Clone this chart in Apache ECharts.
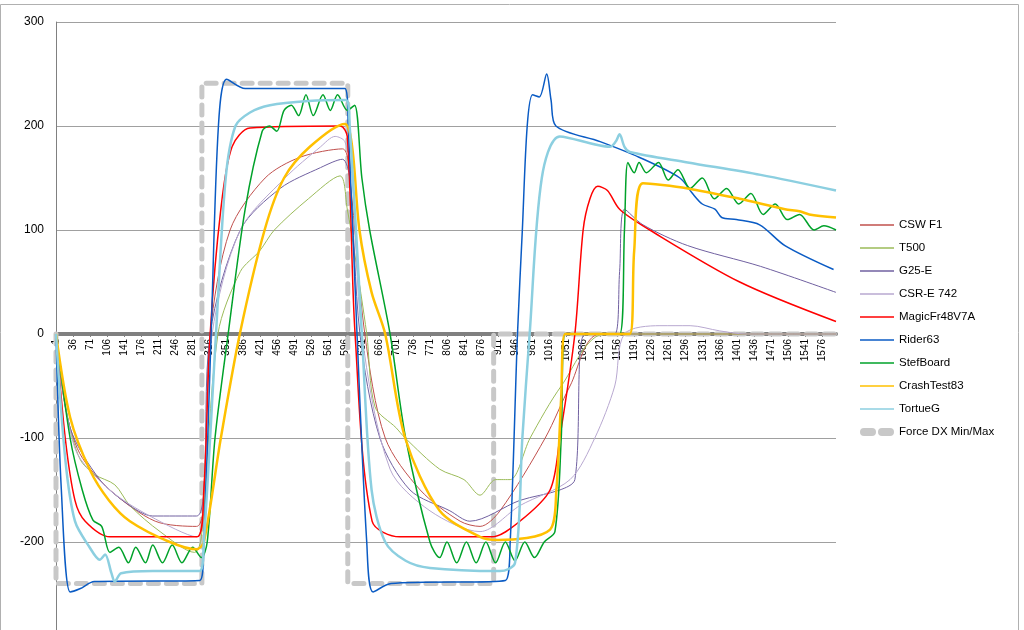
<!DOCTYPE html>
<html><head><meta charset="utf-8">
<script src="https://cdn.jsdelivr.net/npm/echarts@6/dist/echarts.min.js"></script>
<style>html,body{margin:0;background:#fff;overflow:hidden;height:630px}#c{width:1024px;height:660px}</style>
</head><body><div id="c"></div>
<script>
var seriesNames=['CSW F1','T500','G25-E','CSR-E 742','MagicFr48V7A','Rider63','StefBoard','CrashTest83','TortueG','Force DX Min/Max'];
var cswF1=[[1,0],[20,-70],[50,-115],[112,-150],[205,-180],[290,-185],[305,-160],[318,0],[359,100],[431,150],[503,170],[590,178],[605,150],[636,0],[678,-100],[750,-150],[832,-180],[873,-185],[914,-170],[1007,-100],[1058,-50],[1120,0],[1605,0]];
var t500=[[1,0],[25,-80],[50,-120],[80,-135],[122,-145],[153,-165],[215,-190],[286,-210],[300,-195],[334,0],[380,60],[420,80],[450,100],[520,130],[585,152],[600,120],[615,78],[640,0],[657,-70],[700,-90],[719,-100],[790,-130],[840,-140],[873,-155],[905,-140],[935,-140],[976,-100],[1040,-50],[1130,0],[1605,0]];
var g25e=[[1,0],[30,-90],[91,-140],[153,-165],[200,-175],[290,-175],[305,-150],[318,0],[380,100],[462,140],[545,160],[590,168],[605,150],[626,0],[667,-100],[729,-150],[811,-170],[852,-180],[955,-160],[1037,-150],[1068,-140],[1089,0],[1150,0],[1160,60],[1170,120],[1208,105],[1300,85],[1450,65],[1605,40]];
var csrE742=[[1,0],[40,-110],[112,-150],[194,-175],[290,-195],[305,-150],[322,0],[380,100],[472,150],[545,180],[575,190],[595,185],[610,150],[630,0],[688,-130],[770,-170],[873,-190],[955,-165],[1058,-140],[1109,-100],[1150,-50],[1170,0],[1243,8],[1305,8],[1366,3],[1420,0],[1605,0]];
var magicFr=[[1,0],[20,-100],[40,-160],[61,-180],[112,-195],[291,-195],[305,-150],[318,0],[340,120],[363,180],[400,198],[585,200],[600,190],[616,0],[651,-180],[708,-195],[897,-195],[955,-180],[1017,-150],[1037,-100],[1068,0],[1085,100],[1099,130],[1115,142],[1135,138],[1160,120],[1222,100],[1407,50],[1605,12]];
var rider63=[[1,0],[12,-150],[30,-248],[50,-245],[80,-238],[297,-237],[305,-200],[320,0],[335,200],[352,245],[390,236],[595,236],[602,200],[620,0],[640,-200],[653,-248],[690,-240],[925,-237],[935,-200],[950,0],[960,100],[970,200],[981,230],[995,228],[1010,250],[1019,225],[1029,200],[1120,185],[1200,170],[1284,150],[1310,135],[1330,125],[1356,120],[1370,112],[1400,110],[1448,105],[1500,85],[1600,62]];
var stefBoard=[[1,0],[30,-100],[55,-150],[77,-179],[95,-185],[112,-210],[130,-205],[150,-220],[165,-205],[185,-220],[200,-203],[220,-220],[240,-203],[260,-220],[282,-205],[300,-215],[312,-200],[328,-100],[355,0],[390,120],[425,195],[440,200],[455,195],[470,215],[485,220],[500,210],[515,230],[530,210],[550,230],[565,215],[580,230],[600,215],[615,220],[630,150],[646,100],[688,0],[720,-100],[770,-200],[790,-215],[805,-200],[825,-220],[845,-200],[865,-220],[885,-200],[905,-220],[925,-200],[945,-218],[965,-200],[985,-215],[1005,-200],[1027,-190],[1040,-100],[1048,0],[1160,0],[1170,100],[1177,165],[1190,155],[1200,165],[1215,155],[1240,165],[1260,148],[1280,158],[1305,140],[1330,150],[1355,130],[1380,140],[1405,125],[1430,135],[1455,115],[1480,125],[1505,110],[1530,115],[1560,100],[1580,104],[1605,100]];
var crashTest=[[1,0],[30,-80],[71,-131],[110,-160],[153,-180],[235,-200],[290,-207],[305,-200],[340,-100],[379,0],[430,100],[470,150],[523,180],[595,202],[610,180],[625,100],[650,40],[678,0],[719,-100],[790,-170],[873,-195],[910,-198],[1017,-188],[1030,-150],[1040,-60],[1048,0],[1181,0],[1190,80],[1208,145],[1300,140],[1407,130],[1500,120],[1530,118],[1550,115],[1605,112]];
var tortueG=[[1,0],[20,-120],[40,-180],[70,-205],[91,-217],[102,-212],[115,-230],[122,-238],[135,-230],[200,-228],[296,-228],[305,-200],[330,0],[350,150],[370,200],[400,213],[441,220],[520,224],[597,225],[605,200],[630,0],[650,-150],[678,-200],[720,-218],[770,-225],[914,-228],[945,-220],[960,-100],[975,0],[1000,150],[1037,190],[1140,180],[1152,185],[1160,192],[1170,180],[1181,175],[1300,165],[1450,153],[1605,138]];
var forceDX=[[1,0],[1,-240],[301,-240],[301,241],[601,241],[601,-240],[901,-240],[901,0],[1605,0]];
var yTicks=[-300,-200,-100,0,100,200,300];

var datas=[cswF1,t500,g25e,csrE742,magicFr,rider63,stefBoard,crashTest,tortueG,forceDX];
var colors=['#c0504d','#9bbb59','#7060a0','#b8a8d0','#ff0000','#0a5bc4','#00a22a','#ffc000','#8ccfe0','#c8c8c8'];
var widths=[1,1,1,1,1.5,1.5,1.5,2.5,2.5,5];
var series=datas.map(function(d,i){
  return {name:seriesNames[i],type:'line',data:d,showSymbol:false,smooth:i<9?0.3:false,
    z:i==9?1:2+i,
    lineStyle:{color:colors[i],width:widths[i],type:i==9?[10,8]:'solid',cap:i==9?'round':'butt'},
    itemStyle:{color:colors[i]}};
});
var chart=echarts.init(document.getElementById('c'));
chart.setOption({
  animation:false,
  graphic:[{type:'rect',shape:{x:0.5,y:4.5,width:1018,height:660},style:{fill:'none',stroke:'#b0b0b0',lineWidth:1},z:-1}],
  grid:{left:56,right:188,top:22,bottom:14},
  legend:{orient:'vertical',left:855,top:214,itemGap:11,itemWidth:34,itemHeight:14,
    textStyle:{fontFamily:'Liberation Sans',fontSize:11.5,color:'#000'},
    data:seriesNames.map(function(n,i){return {name:n,itemStyle:{color:colors[i]},icon:i==9?'path://M0,4 a4,4 0 0 1 4,-4 h8 a4,4 0 0 1 0,8 h-8 a4,4 0 0 1 -4,-4 z M18,4 a4,4 0 0 1 4,-4 h8 a4,4 0 0 1 0,8 h-8 a4,4 0 0 1 -4,-4 z':'path://M0,0 h34 v1.5 h-34 z'};})},
  xAxis:{type:'value',min:1,max:1605,interval:35,position:'bottom',offset:-312,
    axisLine:{onZero:false,lineStyle:{color:'#808080',width:4}},
    axisTick:{show:true,length:3,lineStyle:{color:'#808080'}},
    splitLine:{show:false},
    axisLabel:{rotate:90,fontSize:10,fontFamily:'Liberation Sans',color:'#000',showMaxLabel:false,margin:5,
      formatter:function(v){return String(v);}}},
  yAxis:{type:'value',min:-300,max:300,interval:100,
    axisLine:{show:true,lineStyle:{color:'#808080'}},axisTick:{show:false},
    splitLine:{lineStyle:{color:'#a0a0a0'}},
    axisLabel:{fontSize:12,fontFamily:'Liberation Sans',color:'#000',margin:12}},
  series:series
});
</script></body></html>
